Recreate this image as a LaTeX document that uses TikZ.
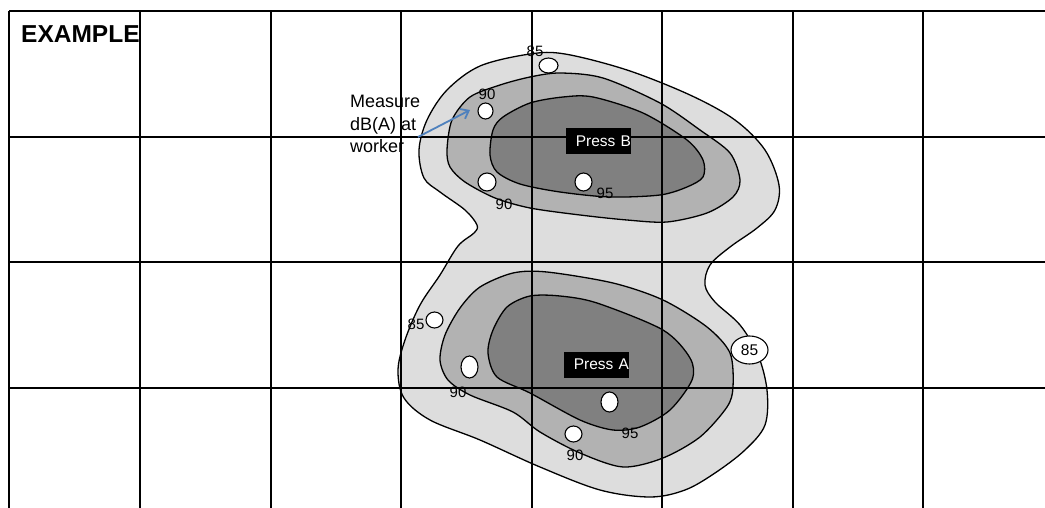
\documentclass[tikz,border=0pt]{standalone}
\usepackage{fontspec}
\setmainfont{Liberation Sans}
\usetikzlibrary{shapes.geometric,arrows.meta}
\definecolor{cLight}{RGB}{221,221,221}
\definecolor{cMid}{RGB}{178,178,178}
\definecolor{cDark}{RGB}{128,128,128}
\definecolor{cBlue}{RGB}{79,129,189}
\begin{document}
\begin{tikzpicture}[x=1pt,y=-1pt,
  contour/.style={draw=black,line width=1.3pt},
  gridline/.style={draw=black,line width=2.3pt},
  spot/.style={ellipse,draw=black,fill=white,line width=1.1pt,inner sep=0pt},
  lbl/.style={inner sep=0pt,font=\fontsize{15}{17}\selectfont},
  pressbox/.style={fill=black,text=white,inner xsep=0pt,inner ysep=0pt,
    minimum height=26pt,text width=65pt,align=right,
    font=\fontsize{15.5}{17}\selectfont},
  arr/.style={draw=cBlue,line width=1.8pt,-{Straight Barb[length=7pt,width=11pt]}}]
\useasboundingbox (0,0) rectangle (1045,508);
\fill[white] (0,0) rectangle (1045,508);
% outer 85 contour
\draw[contour,fill=cLight] plot[smooth cycle,tension=0.55] coordinates {
 (419,150) (427,120) (447,90) (480,66) (530,54) (565,54) (627,70) (690,95)
 (735,120) (765,150) (779,185) (775,210) (757,228) (730,247) (710,265) (705,285)
 (715,302) (740,325) (758,355) (767,390) (765,425) (745,450) (715,473) (685,490)
 (650,497) (600,490) (540,467) (480,440) (430,420) (404,398) (398,370) (405,340)
 (420,305) (440,275) (458,246) (474,233) (477,225) (465,210) (440,192) (424,178)};
% upper 90
\draw[contour,fill=cMid] plot[smooth cycle] coordinates {
 (447,150) (452,120) (470,97) (500,85) (530,77) (560,73) (603,78) (660,103)
 (700,130) (730,153) (740,180) (733,197) (707,213) (667,222) (627,220) (580,215)
 (530,208) (495,198) (465,182) (450,167)};
% upper 95
\draw[contour,fill=cDark] plot[smooth cycle] coordinates {
 (490,155) (493,130) (503,117) (530,103) (563,97) (593,97) (643,113) (687,140)
 (703,160) (703,177) (687,187) (660,195) (610,197) (560,192) (520,184) (497,172)};
% lower 90
\draw[contour,fill=cMid] plot[smooth cycle] coordinates {
 (440,360) (445,335) (460,308) (480,287) (513,273) (547,272) (613,283) (663,300)
 (707,327) (730,353) (733,387) (727,407) (700,437) (663,458) (623,467) (580,453)
 (540,432) (513,412) (470,395) (448,380)};
% lower 95
\draw[contour,fill=cDark] plot[smooth cycle] coordinates {
 (488,353) (493,330) (507,307) (530,296) (560,296) (597,303) (663,330) (690,358)
 (692,380) (670,410) (640,427) (613,430) (580,420) (530,393) (497,377)};
% grid
\foreach \gx in {9,140,271,401,532,662,793,923}
  \draw[gridline] (\gx,11) -- (\gx,508);
\foreach \gy in {11,137,262,388}
  \draw[gridline] (9,\gy) -- (1045,\gy);
% title
\node[anchor=base west,inner sep=0pt,font=\bfseries\fontsize{24.5}{26}\selectfont] (title) at (21,42.5) {EXAMPLE};
% presses
\node[pressbox] (pressB) at (598.5,141) {Press B};
\node[pressbox] (pressA) at (596.5,364.5) {Press A};
% measuring spots
\node[spot,minimum width=19pt,minimum height=15pt] (s1) at (548.5,65.5) {};
\node[spot,minimum width=15pt,minimum height=16pt] (s2) at (485.5,111) {};
\node[spot,minimum width=18pt,minimum height=18pt] (s3) at (487,182) {};
\node[spot,minimum width=17pt,minimum height=18pt] (s4) at (583.5,182) {};
\node[spot,minimum width=17pt,minimum height=16pt] (s5) at (434.5,320) {};
\node[spot,minimum width=17pt,minimum height=22pt] (s6) at (469.5,367) {};
\node[spot,minimum width=17pt,minimum height=20pt] (s7) at (609.5,402) {};
\node[spot,minimum width=17pt,minimum height=16pt] (s8) at (573.5,434) {};
\node[spot,minimum width=37pt,minimum height=28pt,font=\fontsize{15.5}{17}\selectfont] (s9) at (749.5,350) {85};
% level labels
\node[lbl] (l1) at (535,51.5) {85};
\node[lbl] (l2) at (487,94.5) {90};
\node[lbl] (l3) at (504,204.5) {90};
\node[lbl] (l4) at (605,193) {95};
\node[lbl] (l5) at (416,324.5) {85};
\node[lbl] (l6) at (458,392) {90};
\node[lbl] (l7) at (630,433.5) {95};
\node[lbl] (l8) at (575,455.5) {90};
% annotation
\node[anchor=north west,inner sep=0pt,align=left,font=\fontsize{18}{22.7}\selectfont] (measure) at (350,95) {Measure\\dB(A) at\\worker};
\coordinate (arrS) at (418,137);
\coordinate (arrE) at (470,110);
\draw[arr] (arrS) -- (arrE);
\end{tikzpicture}
\end{document}
